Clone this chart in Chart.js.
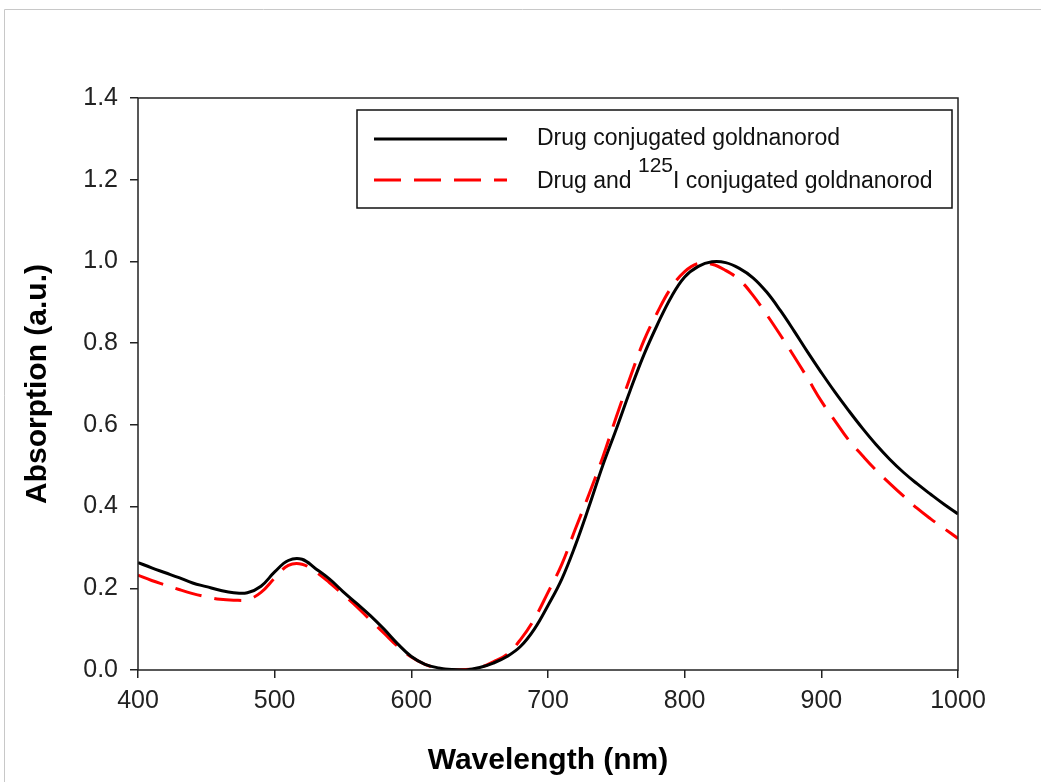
<!DOCTYPE html>
<html>
<head>
<meta charset="utf-8">
<script src="https://cdn.jsdelivr.net/npm/chart.js@4"></script>
<style>
  html, body { margin: 0; padding: 0; background: #fff; }
  #wrap { position: relative; width: 1041px; height: 782px; }
</style>
</head>
<body>
<div id="wrap"><canvas id="absChart" width="1041" height="782"></canvas></div>
<script>
// wavelength (nm)
const wavelengths = [400, 410, 420, 430, 440, 450, 460, 470, 480, 490,
  500, 510, 520, 530, 540, 550, 560, 570, 580, 590,
  600, 610, 620, 630, 640, 650, 660, 670, 680, 690,
  700, 710, 720, 730, 740, 750, 760, 770, 780, 790,
  800, 810, 820, 830, 840, 850, 860, 870, 880, 890,
  900, 910, 920, 930, 940, 950, 960, 970, 980, 990, 1000];

const drugGNR = [0.263, 0.250, 0.238, 0.226, 0.213, 0.204, 0.195, 0.189, 0.189, 0.205,
  0.240, 0.268, 0.271, 0.248, 0.223, 0.192, 0.163, 0.133, 0.100, 0.064,
  0.033, 0.014, 0.005, 0.001, 0.000, 0.006, 0.017, 0.033, 0.058, 0.100,
  0.158, 0.222, 0.305, 0.400, 0.500, 0.590, 0.683, 0.770, 0.845, 0.912,
  0.962, 0.988, 0.999, 0.997, 0.983, 0.960, 0.925, 0.880, 0.830, 0.778,
  0.728, 0.680, 0.635, 0.592, 0.552, 0.516, 0.484, 0.456, 0.430, 0.405, 0.382];

const drugIodineGNR = [0.232, 0.219, 0.208, 0.197, 0.187, 0.179, 0.173, 0.171, 0.172, 0.190,
  0.225, 0.256, 0.259, 0.240, 0.214, 0.185, 0.155, 0.122, 0.090, 0.058,
  0.032, 0.014, 0.004, 0.000, 0.001, 0.006, 0.020, 0.038, 0.075, 0.125,
  0.190, 0.258, 0.345, 0.430, 0.520, 0.620, 0.715, 0.805, 0.875, 0.935,
  0.975, 0.995, 0.993, 0.978, 0.955, 0.917, 0.870, 0.820, 0.768, 0.714,
  0.658, 0.610, 0.563, 0.525, 0.489, 0.457, 0.426, 0.396, 0.370, 0.346, 0.322];

const seriesNames = ['Drug conjugated goldnanorod', 'Drug and ', '125', 'I conjugated goldnanorod'];
const xTicks = [400, 500, 600, 700, 800, 900, 1000];
const yTicks = [0.0, 0.2, 0.4, 0.6, 0.8, 1.0, 1.2, 1.4];

const toPoints = vals => wavelengths.map((w, i) => ({ x: w, y: vals[i] }));

const tickFont = { family: 'Liberation Sans, Arial, sans-serif', size: 25 };
const titleFont = { family: 'Liberation Sans, Arial, sans-serif', size: 30, weight: 'bold' };
const dashPattern = [27, 13];

// page border, plot frame and legend are drawn by hand
const decorations = {
  id: 'decorations',
  beforeDraw(chart) {
    const ctx = chart.ctx;
    ctx.save();
    ctx.strokeStyle = '#c8c8c8';
    ctx.lineWidth = 1;
    ctx.beginPath();
    ctx.moveTo(4.5, chart.height);
    ctx.lineTo(4.5, 9.5);
    ctx.lineTo(chart.width, 9.5);
    ctx.stroke();
    ctx.restore();
  },
  afterDraw(chart) {
    const ctx = chart.ctx;
    const a = chart.chartArea;
    ctx.save();
    ctx.strokeStyle = '#222';
    ctx.lineWidth = 1.5;
    ctx.strokeRect(a.left, a.top, a.right - a.left, a.bottom - a.top);

    // legend box
    const bx = a.right - 601, by = a.top + 12, bw = 595, bh = 98;
    ctx.fillStyle = '#fff';
    ctx.fillRect(bx, by, bw, bh);
    ctx.strokeStyle = '#111';
    ctx.lineWidth = 1.5;
    ctx.strokeRect(bx, by, bw, bh);

    const y1 = by + 29, y2 = by + 70;
    ctx.lineWidth = 3;
    ctx.strokeStyle = '#000';
    ctx.beginPath();
    ctx.moveTo(bx + 17, y1);
    ctx.lineTo(bx + 150, y1);
    ctx.stroke();
    ctx.strokeStyle = '#ff0000';
    ctx.setLineDash(dashPattern);
    ctx.beginPath();
    ctx.moveTo(bx + 17, y2);
    ctx.lineTo(bx + 150, y2);
    ctx.stroke();
    ctx.setLineDash([]);

    ctx.fillStyle = '#111';
    ctx.textBaseline = 'middle';
    ctx.textAlign = 'left';
    const mainFont = '23px Liberation Sans, Arial, sans-serif';
    ctx.font = mainFont;
    const tx = bx + 180;
    ctx.fillText(seriesNames[0], tx, y1);
    let x = tx;
    ctx.fillText(seriesNames[1], x, y2 + 2);
    x += ctx.measureText(seriesNames[1]).width;
    ctx.font = '21px Liberation Sans, Arial, sans-serif';
    ctx.fillText(seriesNames[2], x, y2 - 14);
    x += ctx.measureText(seriesNames[2]).width;
    ctx.font = mainFont;
    ctx.fillText(seriesNames[3], x, y2 + 2);
    ctx.restore();
  }
};

new Chart(document.getElementById('absChart').getContext('2d'), {
  type: 'line',
  data: {
    datasets: [{
      label: 'Drug conjugated goldnanorod',
      data: toPoints(drugGNR),
      borderColor: '#000',
      borderWidth: 3,
      pointRadius: 0,
      tension: 0.4
    }, {
      label: 'Drug and 125I conjugated goldnanorod',
      data: toPoints(drugIodineGNR),
      borderColor: '#ff0000',
      borderWidth: 3,
      borderDash: dashPattern,
      pointRadius: 0,
      tension: 0.4
    }]
  },
  options: {
    responsive: false,
    animation: false,
    layout: { padding: { left: 0, top: 98, right: 83, bottom: 0 } },
    plugins: {
      legend: { display: false },
      tooltip: { enabled: false }
    },
    scales: {
      x: {
        type: 'linear',
        min: 400,
        max: 1000,
        afterBuildTicks: s => { s.ticks = xTicks.map(v => ({ value: v })); },
        afterFit: s => { s.height = 112; },
        ticks: { font: tickFont, color: '#222', padding: 8, maxRotation: 0, callback: v => String(v) },
        grid: { display: true, drawOnChartArea: false, tickLength: 8, color: '#222', lineWidth: 1.5 },
        border: { display: false },
        title: { display: true, text: 'Wavelength (nm)', font: titleFont, color: '#000', padding: { top: 0, bottom: 3 } }
      },
      y: {
        min: 0,
        max: 1.4,
        afterBuildTicks: s => { s.ticks = yTicks.map(v => ({ value: v })); },
        afterFit: s => { s.width = 138; },
        ticks: { font: tickFont, color: '#222', padding: 12, callback: v => v.toFixed(1) },
        grid: { display: true, drawOnChartArea: false, tickLength: 8, color: '#222', lineWidth: 1.5 },
        border: { display: false },
        title: { display: true, text: 'Absorption (a.u.)', font: titleFont, color: '#000', padding: { top: 20, bottom: 0 } }
      }
    }
  },
  plugins: [decorations]
});
</script>
</body>
</html>
